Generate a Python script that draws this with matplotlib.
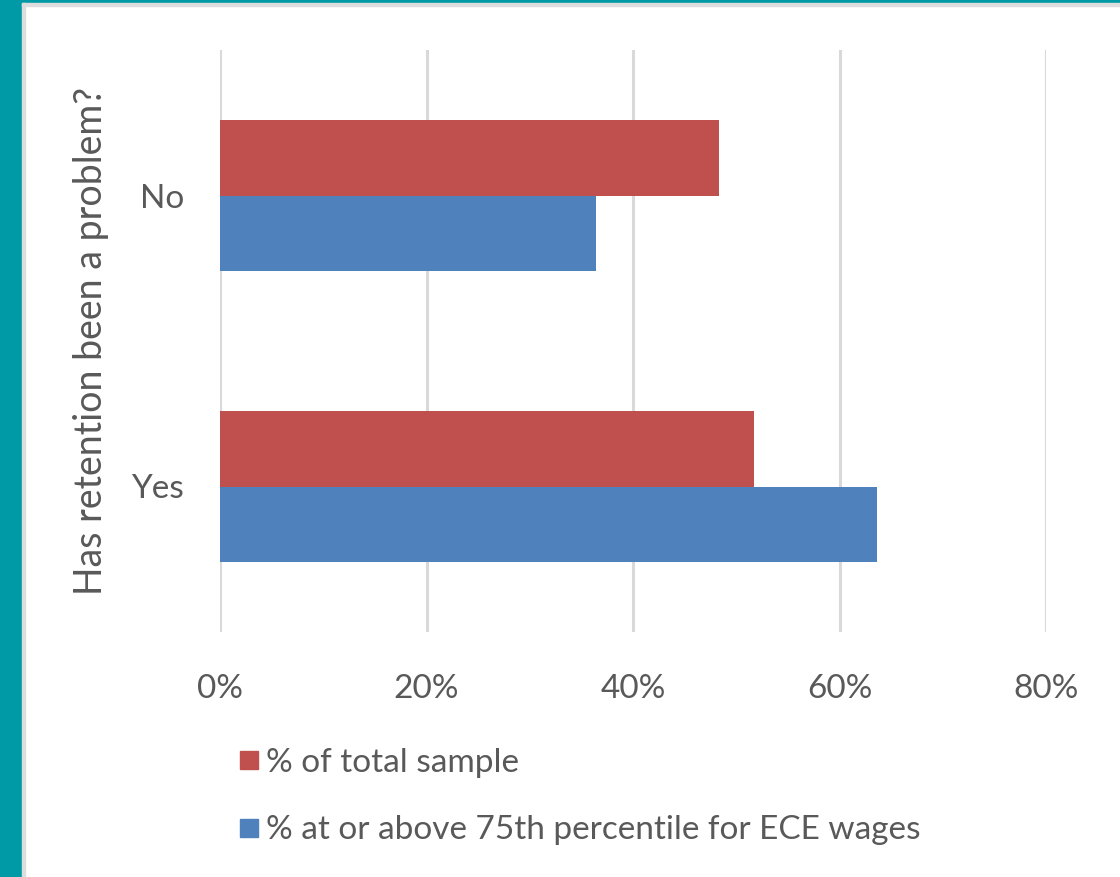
import matplotlib
matplotlib.use("Agg")
import matplotlib.pyplot as plt
from matplotlib.patches import Rectangle
from matplotlib.ticker import FuncFormatter
from matplotlib.lines import Line2D

categories = ["No", "Yes"]
total_sample = [48.3, 51.7]
above_75th = [36.4, 63.6]
series_labels = ["% of total sample", "% at or above 75th percentile for ECE wages"]
x_ticks = [0, 20, 40, 60, 80]
y_title = "Has retention been a problem?"

red = "#C0504D"
blue = "#4F81BD"
text_color = "#595959"
teal = "#009AA6"

plt.rcParams['font.family'] = ['Lato', 'DejaVu Sans']

fig = plt.figure(figsize=(11.2, 8.77), dpi=100)
fig.patch.set_facecolor("white")

# teal frame
fig.patches.append(Rectangle((0, 0), 22/1120, 1, transform=fig.transFigure, color=teal, zorder=0))
fig.patches.append(Rectangle((0, 1-3/877), 1, 3/877, transform=fig.transFigure, color=teal, zorder=0))
fig.patches.append(Rectangle((22/1120, 0), 3/1120, 1-3/877, transform=fig.transFigure, color="#DDDDDD", zorder=0))
fig.patches.append(Rectangle((22/1120, 1-6/877), 1, 3/877, transform=fig.transFigure, color="#DDDDDD", zorder=0))

ax = fig.add_axes([220/1120, 1-632/877, (1046-220)/1120, (632-50)/877])
h = 0.26
ypos = [0.5, 1.5]
ax.barh([y - h/2 for y in ypos], total_sample, height=h, color=red, label=series_labels[0], zorder=3)
ax.barh([y + h/2 for y in ypos], above_75th, height=h, color=blue, label=series_labels[1], zorder=3)

ax.set_xlim(0, 80)
ax.set_ylim(2, 0)
ax.set_xticks(x_ticks)
ax.xaxis.set_major_formatter(FuncFormatter(lambda v, p: f"{v:.0f}%"))
ax.set_yticks(ypos)
ax.set_yticklabels(categories)
ax.grid(axis='x', color="#D9D9D9", linewidth=2.2, zorder=0)
ax.set_axisbelow(True)
for s in ax.spines.values():
    s.set_visible(False)
ax.tick_params(axis='both', length=0, labelsize=24, labelcolor=text_color)
ax.tick_params(axis='x', pad=30)
ax.tick_params(axis='y', pad=26)
ax.set_ylabel(y_title, fontsize=27, color=text_color, labelpad=16)

handles = [Line2D([], [], marker='s', linestyle='none', markersize=13, color=red),
           Line2D([], [], marker='s', linestyle='none', markersize=13, color=blue)]
fig.legend(handles, series_labels, loc='upper left', bbox_to_anchor=(216/1120, 1-731/877),
           frameon=False, fontsize=24, labelcolor=text_color, handletextpad=0.0,
           labelspacing=1.13, handlelength=1.0, borderpad=0)

fig.savefig("out.png", dpi=100)
